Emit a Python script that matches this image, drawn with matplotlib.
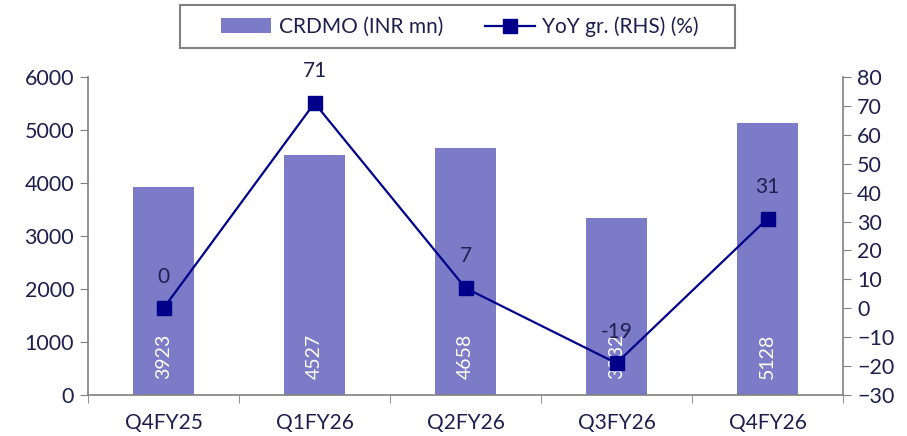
import matplotlib.pyplot as plt
from matplotlib.patches import Rectangle
import numpy as np

quarters = ["Q4FY25", "Q1FY26", "Q2FY26", "Q3FY26", "Q4FY26"]
crdmo = [3923, 4527, 4658, 3332, 5128]
yoy = [0, 71, 7, -19, 31]

bar_col = "#7b7bc8"
line_col = "#00008b"
txt_col = "#1f1f4f"
grey = "#808080"

plt.rcParams["font.family"] = ["Lato", "DejaVu Sans"]

fig = plt.figure(figsize=(9.07, 4.36), dpi=100)
ax = fig.add_axes([88 / 907, 41 / 436, 755 / 907, 318 / 436])
ax2 = ax.twinx()

x = np.arange(len(quarters))
ax.bar(x, crdmo, width=0.4, color=bar_col, label="CRDMO (INR mn)", zorder=1)
for xi, v in zip(x, crdmo):
    ax.text(xi, 300, str(v), rotation=90, color="white", ha="center", va="bottom", fontsize=14)

ax2.plot(x, yoy, color=line_col, lw=1.6, marker="s", ms=9.5, label="YoY gr. (RHS) (%)")
for xi, v in zip(x, yoy):
    ax2.text(xi, v + 7.5, str(v), color=txt_col, ha="center", va="bottom", fontsize=15)

ax.set_xlim(-0.5, len(quarters) - 0.5)
ax.set_ylim(0, 6000)
ax.set_yticks(range(0, 6001, 1000))
ax2.set_ylim(-30, 80)
ax2.set_yticks(range(-30, 81, 10))

ax.set_xticks(x)
ax.set_xticklabels(quarters)
ax.set_xticks(np.arange(-0.5, len(quarters)), minor=True)
ax.tick_params(axis="x", which="major", length=0, pad=13, labelsize=15, labelcolor=txt_col)
ax.tick_params(axis="x", which="minor", length=6, color=grey, direction="out")
ax.tick_params(axis="y", length=6, color=grey, labelsize=15.5, labelcolor=txt_col, pad=4)
ax2.tick_params(axis="y", length=6, color=grey, labelsize=15.5, labelcolor=txt_col, pad=4)

for a in (ax, ax2):
    a.spines["top"].set_visible(False)
    for s in ("left", "right", "bottom"):
        a.spines[s].set_color(grey)
        a.spines[s].set_linewidth(1.2)
ax.spines["right"].set_visible(False)
ax2.spines["left"].set_visible(False)
ax2.spines["bottom"].set_visible(False)

h1, l1 = ax.get_legend_handles_labels()
h2, l2 = ax2.get_legend_handles_labels()
leg = fig.legend(h1 + h2, l1 + l2, loc="center", bbox_to_anchor=(460 / 907, 1 - 26.5 / 436),
                 ncol=2, frameon=False, fontsize=15, handlelength=2.4, handletextpad=0.35,
                 columnspacing=2.0, labelcolor=txt_col)
fig.patches.append(Rectangle((180 / 907, 1 - 48 / 436), 555 / 907, 43 / 436,
                             transform=fig.transFigure, fill=False, edgecolor=grey, lw=1.5))

fig.savefig("out.png", dpi=100)
